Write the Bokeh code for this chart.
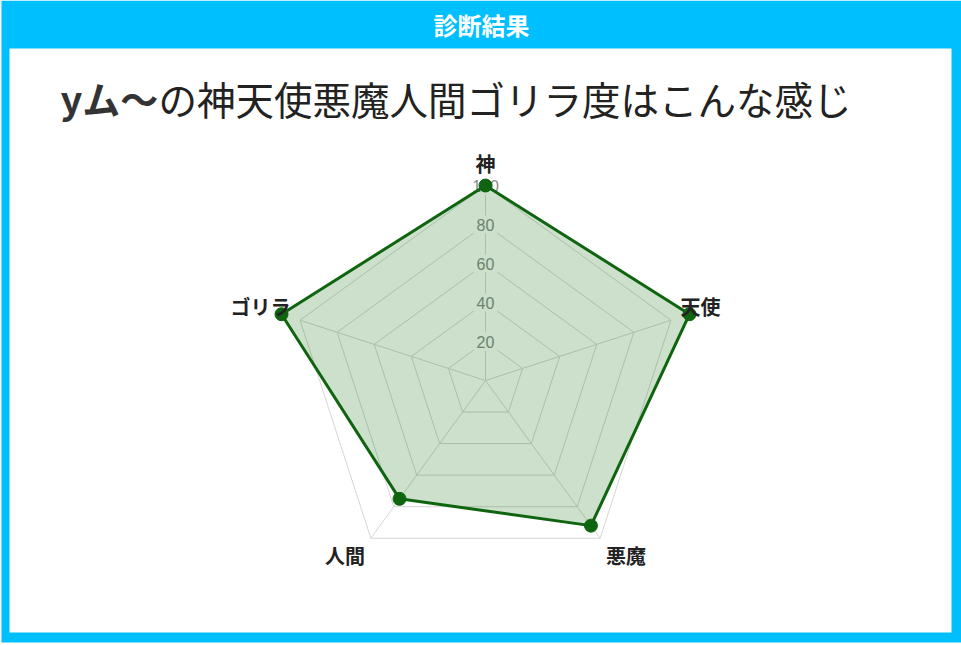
import math

from bokeh.core.properties import value
from bokeh.embed import file_html
from bokeh.models import ColumnDataSource, Range1d
from bokeh.plotting import figure
from bokeh.resources import INLINE

# chart data
header = "診断結果"
title_bold = "yム〜"
title_rest = "の神天使悪魔人間ゴリラ度はこんな感じ"
categories = ["神", "天使", "悪魔", "人間", "ゴリラ"]
scores = [100, 110, 92, 75, 110]
ticks = [20, 40, 60, 80, 100]
scale_max = 100

W, H = 961, 645
CX, CY, R = 485, 380, 195  # centre of the radar (page px) and radius of 100
CYAN = "#00BFFF"
GREEN = "#0f650f"
JP = "Noto Sans CJK JP"

p = figure(width=W, height=H, output_backend="svg", toolbar_location=None,
           x_range=Range1d(0, W), y_range=Range1d(H, 0), min_border=0)
p.axis.visible = False
p.grid.visible = False
p.outline_line_color = None
p.background_fill_color = "white"
p.border_fill_color = "white"

# cyan card with white body
p.quad(left=1, right=961, top=0, bottom=642, fill_color=CYAN, line_color=None)
p.quad(left=9, right=951, top=48, bottom=632, fill_color="white", line_color=None)

p.text(x=[481], y=[24], text=[header], text_color="white", text_font=value(JP),
       text_font_style="bold", text_font_size="24px", text_align="center",
       text_baseline="middle")

p.text(x=[60], y=[97], text=[title_bold], text_color="#333333", text_font=value(JP),
       text_font_style="bold", text_font_size="38px", text_baseline="middle")
p.text(x=[158], y=[97], text=[title_rest], text_color="#222222", text_font=value(JP),
       text_font_size="38.5px", text_baseline="middle")


def polar(v, i, n=len(categories), pad=0.0):
    a = 2 * math.pi * i / n
    r = R * v / scale_max + pad
    return CX + r * math.sin(a), CY - r * math.cos(a)


n = len(categories)
# grid rings and spokes
for t in ticks:
    pts = [polar(t, i) for i in range(n)] + [polar(t, 0)]
    p.line([q[0] for q in pts], [q[1] for q in pts], line_color="#d6d6d6", line_width=1)
for i in range(n):
    x1, y1 = polar(scale_max, i)
    p.line([CX, x1], [CY, y1], line_color="#d6d6d6", line_width=1)

# tick labels with white backdrop
tick_y = [polar(t, 0)[1] for t in ticks]
tick_w = [len(str(t)) * 9 + 6 for t in ticks]
p.rect(x=[CX] * len(ticks), y=tick_y, width=tick_w, height=[18] * len(ticks),
       fill_color="white", line_color=None)
p.text(x=[CX] * len(ticks), y=tick_y, text=[str(t) for t in ticks],
       text_color="#8a8a8a", text_font=value("Liberation Sans"),
       text_font_size="16px", text_align="center", text_baseline="middle")

# data polygon
xs, ys = zip(*[polar(v, i) for i, v in enumerate(scores)])
src = ColumnDataSource(dict(x=list(xs), y=list(ys)))
p.patch(list(xs), list(ys), fill_color="darkgreen", fill_alpha=0.2, line_color=None)
p.line(list(xs) + [xs[0]], list(ys) + [ys[0]], line_color=GREEN, line_width=3)
p.scatter("x", "y", source=src, size=13, fill_color=GREEN, line_color=GREEN)

# category labels
for i, c in enumerate(categories):
    x, y = polar(scale_max, i, pad=10)
    deg = 360 * i / n
    if deg in (0, 180):
        align = "center"
    elif deg < 180:
        align = "left"
    else:
        align = "right"
    if 90 < deg < 270:
        base, y = "top", y - 5
    else:
        base, y = "bottom", y + (2 if deg == 0 else 4)
    p.text(x=[x], y=[y], text=[c], text_color="#222222", text_font=value(JP),
           text_font_style="bold", text_font_size="20px", text_align=align,
           text_baseline=base)

open("out.html", "w").write(file_html(p, INLINE))
